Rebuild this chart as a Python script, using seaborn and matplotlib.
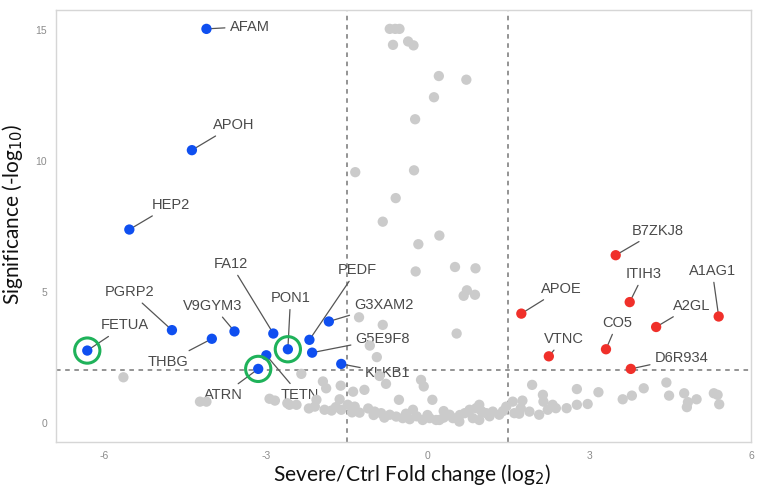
import matplotlib
matplotlib.use("Agg")
import matplotlib.pyplot as plt
import numpy as np
import pandas as pd
import seaborn as sns

# ── data ─────────────────────────────────────────────────────────────────────
down_names = ["AFAM", "APOH", "HEP2", "PGRP2", "FETUA", "THBG", "V9GYM3", "FA12",
              "PON1", "TETN", "ATRN", "PEDF", "G3XAM2", "G5E9F8", "KLKB1"]
down_fc  = [-4.10, -4.37, -5.53, -4.74, -6.31, -4.00, -3.58, -2.86,
            -2.59, -2.99, -3.14, -2.19, -1.83, -2.14, -1.60]
down_sig = [15.04, 10.41, 7.38, 3.54, 2.76, 3.21, 3.49, 3.41,
            2.81, 2.58, 2.06, 3.17, 3.87, 2.68, 2.25]

up_names = ["B7ZKJ8", "ITIH3", "APOE", "A1AG1", "A2GL", "CO5", "VTNC", "D6R934"]
up_fc  = [3.49, 3.75, 1.74, 5.40, 4.24, 3.31, 2.25, 3.77]
up_sig = [6.40, 4.61, 4.17, 4.06, 3.66, 2.81, 2.54, 2.06]

ns_fc = [-0.70, -0.60, -0.52, -0.64, -0.36, -0.26, 0.21, 0.72, 0.12, -0.23, -1.34, -0.25,
         -0.59, -0.83, 0.22, -0.17, 0.51, 0.89, -0.22, 0.73, 0.67, 0.88, -1.27, -0.83,
         0.54, -1.07, -0.94,
         -5.64, -4.22, -4.10, -2.93, -2.83, -2.56, -2.43, -2.34, -2.09, -2.06, -1.94,
         -1.88, -1.91, -1.78, -1.61, -1.63, -1.60, -1.48, -1.38, -1.35, -1.26, -1.17,
         -0.98, -0.89, -0.86, -0.77, -0.70, -0.58, -0.53, -0.46, -0.33, -0.27, -0.12,
         -0.07, -0.09, 0.09, 0.04, 0.16, 0.22, 0.41, 0.47, 0.59, 0.69, 0.78, 0.84,
         0.90, 0.96, 0.96, 1.09, 1.21, 1.33, 1.46, 1.58, 1.61, 1.73, 1.76, 1.89,
         1.94, 2.07, 2.14, 2.15, 2.23, 2.32, 2.38, 2.58, 2.77, 2.77, 2.97, 3.17,
         3.62, 3.79, 4.01, 4.43, 4.48, 4.76, 4.83, 4.81, 4.99, 5.31, 5.38, 5.41,
         -2.20, -1.70, -1.10, -1.00, -0.80, -0.40, -0.20, 0.00, 0.30, 0.30, 0.60,
         1.00, 1.15, 1.40, 1.70, -1.40, -2.60]
ns_sig = [15.04, 15.04, 15.04, 14.43, 14.56, 14.41, 13.24, 13.10, 12.43, 11.59, 9.57, 9.64,
          8.58, 7.68, 7.15, 6.82, 5.95, 5.90, 5.78, 5.06, 4.85, 4.89, 4.03, 3.74,
          3.41, 2.95, 2.51,
          1.74, 0.81, 0.81, 0.92, 0.85, 0.69, 0.69, 1.87, 0.62, 0.88, 1.58,
          1.32, 0.50, 0.47, 1.42, 0.90, 0.50, 0.69, 1.19, 0.62, 0.39, 1.26,
          0.43, 1.79, 0.37, 1.49, 0.31, 0.24, 0.88, 0.18, 0.14, 0.50, 1.64,
          1.39, 0.11, 0.88, 0.18, 0.11, 0.11, 0.31, 0.18, 0.05, 0.37, 0.50, 0.18,
          0.56, 0.69, 0.11, 0.37, 0.43, 0.31, 0.62, 0.81, 0.37, 0.56, 0.85, 0.43,
          1.45, 0.31, 1.07, 0.81, 0.50, 0.69, 0.56, 0.56, 1.29, 0.69, 0.72, 1.17,
          0.90, 1.04, 1.32, 1.54, 1.04, 1.13, 0.79, 0.60, 0.90, 1.13, 1.07, 0.71,
          0.55, 0.60, 0.55, 0.30, 0.20, 0.35, 0.25, 0.30, 0.20, 0.45, 0.30,
          0.45, 0.25, 0.45, 0.35, 0.40, 0.75]

highlighted = ["FETUA", "ATRN", "PON1"]

FC_CUT  = 1.5
SIG_CUT = 2.0

# label anchor positions (data units), layout only
label_pos = {
    "AFAM": (-3.30, 15.13), "APOH": (-3.59, 11.37), "HEP2": (-4.76, 8.32),
    "PGRP2": (-5.52, 5.00), "FETUA": (-5.61, 3.72), "V9GYM3": (-3.98, 4.47),
    "THBG": (-4.81, 2.34), "FA12": (-3.65, 6.07), "PON1": (-2.54, 4.77),
    "ATRN": (-3.79, 1.07), "TETN": (-2.37, 1.07), "PEDF": (-1.31, 5.84),
    "G3XAM2": (-0.81, 4.50), "G5E9F8": (-0.83, 3.21), "KLKB1": (-0.74, 1.91),
    "B7ZKJ8": (4.27, 7.34), "ITIH3": (4.01, 5.69), "APOE": (2.48, 5.12),
    "A1AG1": (5.28, 5.81), "A2GL": (4.90, 4.47), "CO5": (3.52, 3.82),
    "VTNC": (2.52, 3.21), "D6R934": (4.71, 2.48),
}

df = pd.concat([
    pd.DataFrame({"name": "", "fc": ns_fc, "sig": ns_sig, "group": "ns"}),
    pd.DataFrame({"name": down_names, "fc": down_fc, "sig": down_sig, "group": "down"}),
    pd.DataFrame({"name": up_names, "fc": up_fc, "sig": up_sig, "group": "up"}),
], ignore_index=True)

# ── plot ─────────────────────────────────────────────────────────────────────
sns.set_style("white")
plt.rcParams["font.family"] = ["Liberation Sans", "DejaVu Sans"]
plt.rcParams["axes.unicode_minus"] = False

fig = plt.figure(figsize=(7.61, 4.96), dpi=100)
ax = fig.add_axes([0.0736, 0.1089, 0.9133, 0.8709])

ax.axvline(-FC_CUT, color="#777777", lw=1.1, ls=(0, (3, 3)), zorder=1)
ax.axvline(FC_CUT, color="#777777", lw=1.1, ls=(0, (3, 3)), zorder=1)
ax.axhline(SIG_CUT, color="#777777", lw=1.1, ls=(0, (3, 3)), zorder=1)

sns.scatterplot(
    data=df, x="fc", y="sig", hue="group",
    palette={"ns": "#cbcbcb", "down": "#0f4ff0", "up": "#f0302a"},
    hue_order=["ns", "down", "up"],
    s=55, linewidth=0, legend=False, ax=ax, zorder=3,
)

hl = df[df["name"].isin(highlighted)]
ax.scatter(hl["fc"], hl["sig"], s=330, facecolors="none",
           edgecolors="#1fb25a", linewidths=2.2, zorder=4)

for _, row in df[df["group"] != "ns"].iterrows():
    tx, ty = label_pos[row["name"]]
    ax.annotate(
        row["name"], xy=(row["fc"], row["sig"]), xytext=(tx, ty),
        ha="center", va="center", fontsize=10.5, color="#4a4a4a",
        arrowprops=dict(arrowstyle="-", color="#555555", lw=0.9,
                        shrinkA=1, shrinkB=2),
        zorder=2,
    )

ax.set_xlim(-6.89, 5.98)
ax.set_ylim(-0.73, 15.76)
ax.set_xticks([-6, -3, 0, 3, 6])
ax.set_yticks([0, 5, 10, 15])
ax.tick_params(axis="both", colors="#9a9a9a", labelsize=7.5, length=3, width=0.8,
               labelcolor="#8c8c8c")
for sp in ax.spines.values():
    sp.set_color("#d6d6d6")
    sp.set_linewidth(1.0)

ax.set_xlabel("Severe/Ctrl Fold change (log$_2$)", fontsize=15, family="Lato",
              color="#111111", va="center")
ax.set_ylabel("Significance (-log$_{10}$)", fontsize=15, family="Lato",
              color="#111111", va="center")
ax.xaxis.set_label_coords(0.512, -0.075)
ax.yaxis.set_label_coords(-0.062, 0.527)

fig.savefig("out.png", dpi=100)
